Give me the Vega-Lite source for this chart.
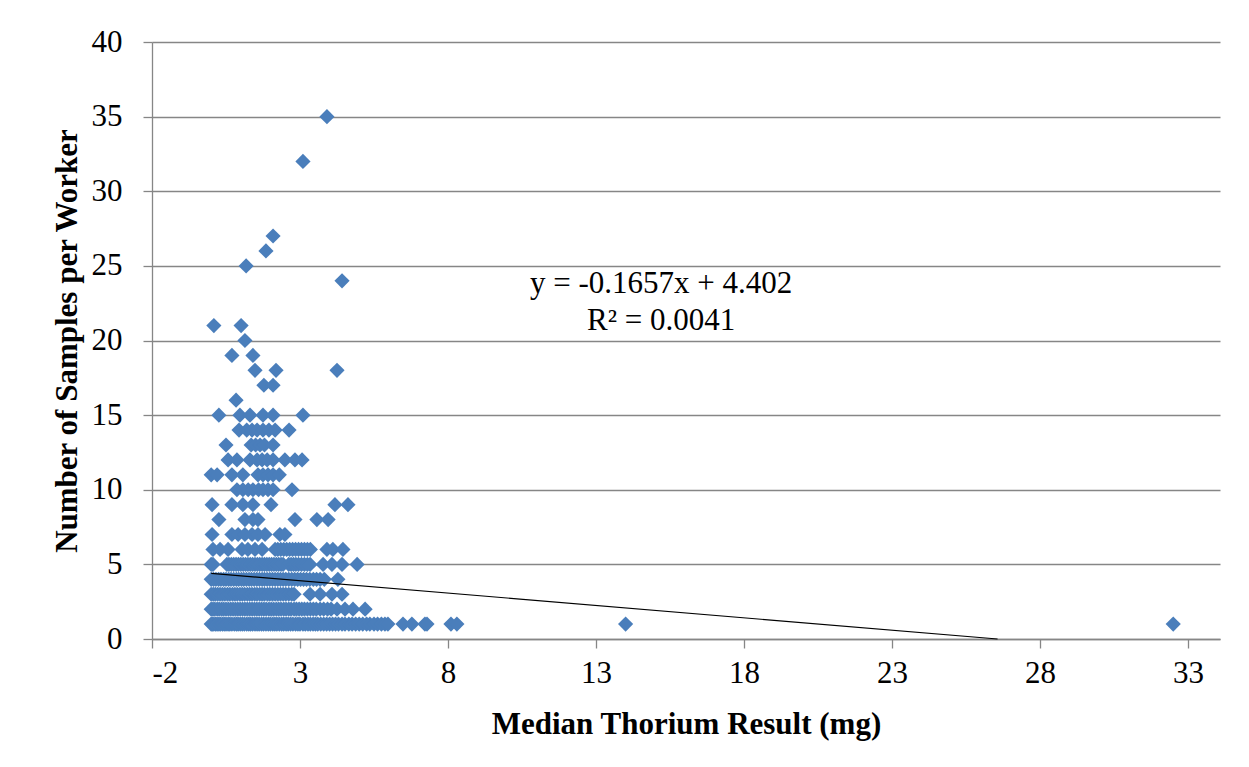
{
  "$schema": "https://vega.github.io/schema/vega-lite/v6.json",
  "width": 1068,
  "height": 597,
  "autosize": "none",
  "padding": {"left": 152, "top": 42, "right": 29, "bottom": 128},
  "background": "white",
  "config": {
    "font": "Liberation Serif",
    "view": {"stroke": null},
    "axis": {
      "labelFont": "Liberation Serif",
      "titleFont": "Liberation Serif",
      "labelFontSize": 31,
      "titleFontSize": 31,
      "labelColor": "black",
      "titleColor": "black",
      "titleFontWeight": "bold",
      "domainColor": "#868686",
      "tickColor": "#868686",
      "gridColor": "#868686",
      "domainWidth": 1.3,
      "tickWidth": 1.3,
      "gridWidth": 1.3
    }
  },
  "datasets": {
    "pts": [
      {"x":0.0,"y":1},{"x":0.04,"y":1},{"x":0.09,"y":1},{"x":0.15,"y":1},{"x":0.2,"y":1},{"x":0.26,"y":1},{"x":0.31,"y":1},{"x":0.38,"y":1},{"x":0.44,"y":1},{"x":0.5,"y":1},{"x":0.57,"y":1},{"x":0.63,"y":1},{"x":0.7,"y":1},{"x":0.78,"y":1},{"x":0.85,"y":1},{"x":0.91,"y":1},{"x":0.98,"y":1},{"x":1.05,"y":1},{"x":1.12,"y":1},{"x":1.2,"y":1},{"x":1.27,"y":1},{"x":1.33,"y":1},{"x":1.4,"y":1},{"x":1.48,"y":1},{"x":1.55,"y":1},{"x":1.62,"y":1},{"x":1.7,"y":1},{"x":1.77,"y":1},{"x":1.85,"y":1},{"x":1.93,"y":1},{"x":2.0,"y":1},{"x":2.08,"y":1},{"x":2.15,"y":1},{"x":2.22,"y":1},{"x":2.3,"y":1},{"x":2.38,"y":1},{"x":2.45,"y":1},{"x":2.53,"y":1},{"x":2.6,"y":1},{"x":2.68,"y":1},{"x":2.76,"y":1},{"x":2.85,"y":1},{"x":2.93,"y":1},{"x":3.0,"y":1},{"x":3.1,"y":1},{"x":3.18,"y":1},{"x":3.27,"y":1},{"x":3.35,"y":1},{"x":3.44,"y":1},{"x":3.52,"y":1},{"x":3.6,"y":1},{"x":3.7,"y":1},{"x":3.8,"y":1},{"x":3.9,"y":1},{"x":4.0,"y":1},{"x":4.1,"y":1},{"x":4.2,"y":1},{"x":4.3,"y":1},{"x":4.42,"y":1},{"x":4.52,"y":1},{"x":4.65,"y":1},{"x":4.76,"y":1},{"x":4.88,"y":1},{"x":5.0,"y":1},{"x":5.12,"y":1},{"x":5.25,"y":1},{"x":5.36,"y":1},{"x":5.5,"y":1},{"x":5.62,"y":1},{"x":5.75,"y":1},{"x":5.87,"y":1},{"x":5.97,"y":1},{"x":6.48,"y":1},{"x":6.78,"y":1},{"x":7.22,"y":1},{"x":7.29,"y":1},{"x":8.1,"y":1},{"x":8.3,"y":1},{"x":14.0,"y":1},{"x":32.5,"y":1},
      {"x":0.0,"y":2},{"x":0.06,"y":2},{"x":0.12,"y":2},{"x":0.2,"y":2},{"x":0.27,"y":2},{"x":0.35,"y":2},{"x":0.42,"y":2},{"x":0.5,"y":2},{"x":0.58,"y":2},{"x":0.66,"y":2},{"x":0.74,"y":2},{"x":0.82,"y":2},{"x":0.9,"y":2},{"x":0.98,"y":2},{"x":1.06,"y":2},{"x":1.14,"y":2},{"x":1.22,"y":2},{"x":1.3,"y":2},{"x":1.38,"y":2},{"x":1.46,"y":2},{"x":1.54,"y":2},{"x":1.62,"y":2},{"x":1.7,"y":2},{"x":1.78,"y":2},{"x":1.86,"y":2},{"x":1.95,"y":2},{"x":2.03,"y":2},{"x":2.11,"y":2},{"x":2.2,"y":2},{"x":2.28,"y":2},{"x":2.36,"y":2},{"x":2.45,"y":2},{"x":2.53,"y":2},{"x":2.62,"y":2},{"x":2.7,"y":2},{"x":2.8,"y":2},{"x":2.88,"y":2},{"x":2.97,"y":2},{"x":3.06,"y":2},{"x":3.15,"y":2},{"x":3.25,"y":2},{"x":3.35,"y":2},{"x":3.45,"y":2},{"x":3.55,"y":2},{"x":3.68,"y":2},{"x":3.8,"y":2},{"x":3.93,"y":2},{"x":4.05,"y":2},{"x":4.25,"y":2},{"x":4.52,"y":2},{"x":4.79,"y":2},{"x":5.2,"y":2},
      {"x":0.0,"y":3},{"x":0.07,"y":3},{"x":0.14,"y":3},{"x":0.22,"y":3},{"x":0.3,"y":3},{"x":0.38,"y":3},{"x":0.46,"y":3},{"x":0.55,"y":3},{"x":0.63,"y":3},{"x":0.72,"y":3},{"x":0.8,"y":3},{"x":0.88,"y":3},{"x":0.97,"y":3},{"x":1.05,"y":3},{"x":1.13,"y":3},{"x":1.22,"y":3},{"x":1.3,"y":3},{"x":1.38,"y":3},{"x":1.47,"y":3},{"x":1.55,"y":3},{"x":1.64,"y":3},{"x":1.72,"y":3},{"x":1.8,"y":3},{"x":1.9,"y":3},{"x":1.98,"y":3},{"x":2.07,"y":3},{"x":2.16,"y":3},{"x":2.25,"y":3},{"x":2.34,"y":3},{"x":2.43,"y":3},{"x":2.52,"y":3},{"x":2.62,"y":3},{"x":2.72,"y":3},{"x":2.8,"y":3},{"x":3.34,"y":3},{"x":3.68,"y":3},{"x":4.08,"y":3},{"x":4.42,"y":3},
      {"x":0.0,"y":4},{"x":0.08,"y":4},{"x":0.16,"y":4},{"x":0.25,"y":4},{"x":0.33,"y":4},{"x":0.42,"y":4},{"x":0.5,"y":4},{"x":0.59,"y":4},{"x":0.67,"y":4},{"x":0.76,"y":4},{"x":0.85,"y":4},{"x":0.93,"y":4},{"x":1.02,"y":4},{"x":1.1,"y":4},{"x":1.19,"y":4},{"x":1.28,"y":4},{"x":1.36,"y":4},{"x":1.45,"y":4},{"x":1.54,"y":4},{"x":1.63,"y":4},{"x":1.72,"y":4},{"x":1.8,"y":4},{"x":1.89,"y":4},{"x":1.98,"y":4},{"x":2.07,"y":4},{"x":2.16,"y":4},{"x":2.25,"y":4},{"x":2.34,"y":4},{"x":2.43,"y":4},{"x":2.52,"y":4},{"x":2.62,"y":4},{"x":2.72,"y":4},{"x":2.82,"y":4},{"x":2.92,"y":4},{"x":3.02,"y":4},{"x":3.12,"y":4},{"x":3.22,"y":4},{"x":3.33,"y":4},{"x":3.45,"y":4},{"x":3.56,"y":4},{"x":3.68,"y":4},{"x":3.82,"y":4},{"x":4.28,"y":4},
      {"x":0.0,"y":5},{"x":0.06,"y":5},{"x":0.53,"y":5},{"x":0.6,"y":5},{"x":0.68,"y":5},{"x":0.76,"y":5},{"x":0.84,"y":5},{"x":0.92,"y":5},{"x":1.0,"y":5},{"x":1.08,"y":5},{"x":1.16,"y":5},{"x":1.24,"y":5},{"x":1.32,"y":5},{"x":1.4,"y":5},{"x":1.48,"y":5},{"x":1.56,"y":5},{"x":1.64,"y":5},{"x":1.72,"y":5},{"x":1.8,"y":5},{"x":1.88,"y":5},{"x":1.96,"y":5},{"x":2.04,"y":5},{"x":2.12,"y":5},{"x":2.2,"y":5},{"x":2.28,"y":5},{"x":2.36,"y":5},{"x":2.43,"y":5},{"x":2.62,"y":5},{"x":2.7,"y":5},{"x":2.78,"y":5},{"x":2.86,"y":5},{"x":2.95,"y":5},{"x":3.05,"y":5},{"x":3.15,"y":5},{"x":3.25,"y":5},{"x":3.34,"y":5},{"x":3.78,"y":5},{"x":4.08,"y":5},{"x":4.42,"y":5},{"x":4.93,"y":5},
      {"x":0.06,"y":6},{"x":0.3,"y":6},{"x":0.57,"y":6},{"x":1.04,"y":6},{"x":1.24,"y":6},{"x":1.48,"y":6},{"x":1.72,"y":6},{"x":2.16,"y":6},{"x":2.25,"y":6},{"x":2.35,"y":6},{"x":2.45,"y":6},{"x":2.55,"y":6},{"x":2.65,"y":6},{"x":2.75,"y":6},{"x":2.85,"y":6},{"x":2.95,"y":6},{"x":3.05,"y":6},{"x":3.15,"y":6},{"x":3.25,"y":6},{"x":3.35,"y":6},{"x":3.91,"y":6},{"x":4.11,"y":6},{"x":4.45,"y":6},
      {"x":0.03,"y":7},{"x":0.7,"y":7},{"x":0.91,"y":7},{"x":1.14,"y":7},{"x":1.38,"y":7},{"x":1.58,"y":7},{"x":1.82,"y":7},{"x":2.32,"y":7},{"x":2.49,"y":7},
      {"x":0.26,"y":8},{"x":1.14,"y":8},{"x":1.41,"y":8},{"x":1.58,"y":8},{"x":2.83,"y":8},{"x":3.57,"y":8},{"x":3.95,"y":8},
      {"x":0.03,"y":9},{"x":0.7,"y":9},{"x":1.07,"y":9},{"x":1.41,"y":9},{"x":2.02,"y":9},{"x":4.18,"y":9},{"x":4.62,"y":9},
      {"x":0.87,"y":10},{"x":1.07,"y":10},{"x":1.25,"y":10},{"x":1.41,"y":10},{"x":1.6,"y":10},{"x":1.75,"y":10},{"x":1.92,"y":10},{"x":2.09,"y":10},{"x":2.73,"y":10},
      {"x":0.0,"y":11},{"x":0.2,"y":11},{"x":0.7,"y":11},{"x":1.07,"y":11},{"x":1.58,"y":11},{"x":1.75,"y":11},{"x":1.92,"y":11},{"x":2.09,"y":11},{"x":2.3,"y":11},
      {"x":0.57,"y":12},{"x":0.87,"y":12},{"x":1.31,"y":12},{"x":1.55,"y":12},{"x":1.72,"y":12},{"x":1.89,"y":12},{"x":2.09,"y":12},{"x":2.49,"y":12},{"x":2.83,"y":12},{"x":3.07,"y":12},
      {"x":0.5,"y":13},{"x":1.35,"y":13},{"x":1.5,"y":13},{"x":1.65,"y":13},{"x":1.8,"y":13},{"x":2.09,"y":13},
      {"x":0.94,"y":14},{"x":1.2,"y":14},{"x":1.38,"y":14},{"x":1.55,"y":14},{"x":1.75,"y":14},{"x":1.95,"y":14},{"x":2.16,"y":14},{"x":2.63,"y":14},
      {"x":0.26,"y":15},{"x":0.97,"y":15},{"x":1.31,"y":15},{"x":1.75,"y":15},{"x":2.09,"y":15},{"x":3.1,"y":15},
      {"x":0.84,"y":16},
      {"x":1.78,"y":17},{"x":2.09,"y":17},
      {"x":1.48,"y":18},{"x":2.19,"y":18},{"x":4.25,"y":18},
      {"x":0.7,"y":19},{"x":1.41,"y":19},
      {"x":1.14,"y":20},
      {"x":0.09,"y":21},{"x":1.01,"y":21},
      {"x":4.42,"y":24},
      {"x":1.18,"y":25},
      {"x":1.85,"y":26},
      {"x":2.09,"y":27},
      {"x":3.1,"y":32},
      {"x":3.91,"y":35}
    ],
    "trend": [
      {"x": 0.0, "y": 4.402},
      {"x": 26.566, "y": 0}
    ],
    "eq": [
      {"x": 15.2, "y": 23.2, "label": "y = -0.1657x + 4.402"},
      {"x": 15.2, "y": 20.7, "label": "R² = 0.0041"}
    ]
  },
  "layer": [
    {
      "data": {"name": "pts"},
      "mark": {"type": "point", "shape": "diamond", "filled": true, "size": 230, "color": "#4a7ebb", "opacity": 1},
      "encoding": {
        "x": {
          "field": "x", "type": "quantitative",
          "scale": {"domain": [-2, 34.08], "nice": false, "zero": false},
          "axis": {
            "values": [-2, 3, 8, 13, 18, 23, 28, 33],
            "labelExpr": "'' + datum.value",
            "grid": false,
            "tickSize": 9,
            "labelPadding": 10,
            "title": "Median Thorium Result (mg)",
            "titlePadding": 21
          }
        },
        "y": {
          "field": "y", "type": "quantitative",
          "scale": {"domain": [0, 40], "nice": false},
          "axis": {
            "values": [0, 5, 10, 15, 20, 25, 30, 35, 40],
            "grid": true,
            "tickSize": 9,
            "labelPadding": 21,
            "title": "Number of Samples per Worker",
            "titlePadding": 8
          }
        }
      }
    },
    {
      "data": {"name": "trend"},
      "mark": {"type": "line", "color": "black", "strokeWidth": 1.2},
      "encoding": {
        "x": {"field": "x", "type": "quantitative"},
        "y": {"field": "y", "type": "quantitative"}
      }
    },
    {
      "data": {"name": "eq"},
      "mark": {"type": "text", "font": "Liberation Serif", "fontSize": 31, "align": "center", "baseline": "alphabetic", "color": "black"},
      "encoding": {
        "x": {"field": "x", "type": "quantitative"},
        "y": {"field": "y", "type": "quantitative"},
        "text": {"field": "label"}
      }
    }
  ]
}
